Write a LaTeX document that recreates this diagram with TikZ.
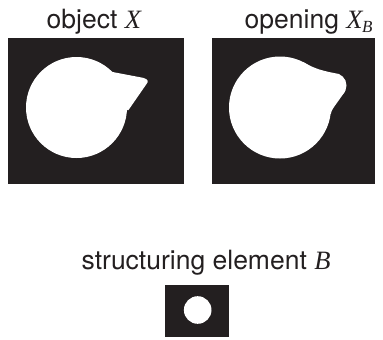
\documentclass[tikz,border=0pt]{standalone}
\usepackage{fontspec}
\usepackage{graphicx}
\setmainfont{TeX Gyre Heros}
\newfontfamily\tms{Liberation Serif}
\definecolor{ink}{HTML}{231F20}
\newcommand{\lbl}[1]{{\fontsize{26.5bp}{30bp}\selectfont #1}}
\newcommand{\mvar}[1]{{\tms\itshape #1}}
\tikzset{
  caption/.style={anchor=base west, inner sep=0pt, text=ink},
  panel/.style={fill=ink},
  shapefill/.style={fill=white}
}
\begin{document}
\begin{tikzpicture}[x=1bp,y=-1bp]
\useasboundingbox (0,0) rectangle (383,340);
% captions
\node[caption] (capX) at (46.5,28.5) {\lbl{object \mvar{X}}};
\node[caption] (capXB) at (244.5,28.5) {\lbl{opening \mvar{X}\kern-0.5bp\raisebox{-4bp}{\fontsize{17bp}{18bp}\selectfont\mvar{B}}}};
\node[caption] (capB) at (81.5,269) {\lbl{structuring element \mvar{B}}};
% left panel: object X
\fill[panel] (8,38) rectangle (184,184);
\fill[shapefill] (76.5,107.5) circle (50.5);
\fill[shapefill] (103,65) .. controls (106,68) and (108,70.5) .. (111,71.7)
  -- (143,77.8) .. controls (148.5,79) and (148.5,82) .. (146.5,84)
  -- (128.5,110) -- (110,110) -- cycle;
% right panel: opening X_B
\fill[panel] (212,38) rectangle (375,184);
\fill[shapefill] (280,107.5) circle (51);
\fill[shapefill] (334,85.5) circle (12.5);
\fill[shapefill] (303,62) .. controls (312,67) and (318,70) .. (334,73)
  -- (345,91.5) -- (334,107) .. controls (331.5,111) .. (330.8,114)
  -- (300,110) -- cycle;
% structuring element
\fill[panel] (165,285) rectangle (229,337);
\fill[shapefill] (197.7,310) circle (13.8);
\end{tikzpicture}
\end{document}
